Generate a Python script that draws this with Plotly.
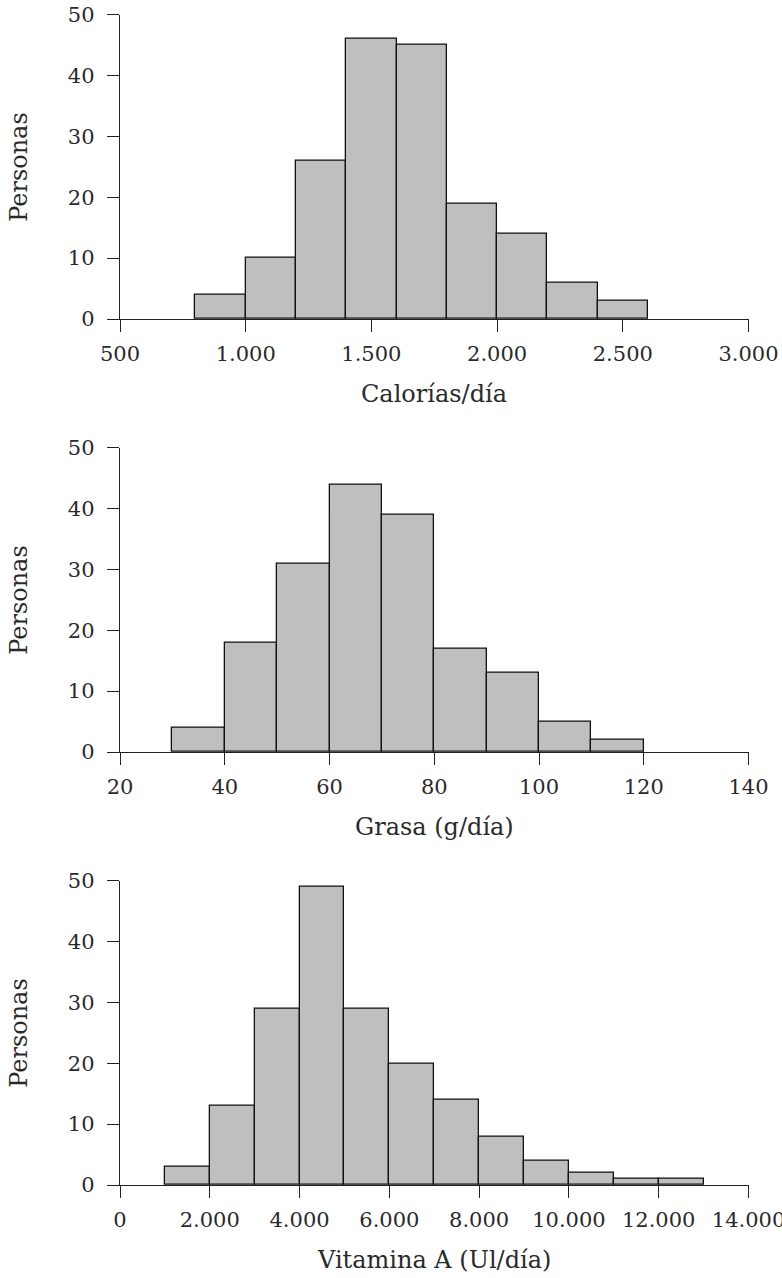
import plotly.graph_objects as go

# ---- data ----
cal_edges = [800, 1000, 1200, 1400, 1600, 1800, 2000, 2200, 2400]
cal_width = 200
cal_counts = [4, 10, 26, 46, 45, 19, 14, 6, 3]
cal_tickvals = [500, 1000, 1500, 2000, 2500, 3000]
cal_ticktext = ["500", "1.000", "1.500", "2.000", "2.500", "3.000"]

fat_edges = [30, 40, 50, 60, 70, 80, 90, 100, 110]
fat_width = 10
fat_counts = [4, 18, 31, 44, 39, 17, 13, 5, 2]
fat_tickvals = [20, 40, 60, 80, 100, 120, 140]
fat_ticktext = ["20", "40", "60", "80", "100", "120", "140"]

vit_edges = [1000, 2000, 3000, 4000, 5000, 6000, 7000, 8000, 9000, 10000, 11000, 12000]
vit_width = 1000
vit_counts = [3, 13, 29, 49, 29, 20, 14, 8, 4, 2, 1, 1]
vit_tickvals = [0, 2000, 4000, 6000, 8000, 10000, 12000, 14000]
vit_ticktext = ["0", "2.000", "4.000", "6.000", "8.000", "10.000", "12.000", "14.000"]

y_tickvals = [0, 10, 20, 30, 40, 50]
x_titles = ["Calorías/día", "Grasa (g/día)", "Vitamina A (Ul/día)"]
y_title = "Personas"

# ---- layout geometry (pixels) ----
W, H = 782, 1278
x_left, x_right = 120, 748.5
panels = [(14.7, 319), (447.7, 752), (880.7, 1185)]

FONT = "DejaVu Serif"
TXT = "#2a2a2a"

fig = go.Figure()
series = [
    (cal_edges, cal_width, cal_counts, cal_tickvals, cal_ticktext, [500, 3000]),
    (fat_edges, fat_width, fat_counts, fat_tickvals, fat_ticktext, [20, 140]),
    (vit_edges, vit_width, vit_counts, vit_tickvals, vit_ticktext, [0, 14000]),
]

annotations = []
for i, (edges, width, counts, tv, tt, xr) in enumerate(series):
    n = "" if i == 0 else str(i + 1)
    fig.add_trace(go.Bar(
        x=edges, y=counts, width=width, offset=0,
        marker=dict(color="#bfbfbf", line=dict(color="#111111", width=1.3)),
        xaxis="x" + n, yaxis="y" + n, showlegend=False, hoverinfo="x+y",
    ))
    top, bot = panels[i]
    dom_y = [1 - bot / H, 1 - top / H]
    dom_x = [x_left / W, x_right / W]
    fig.layout["xaxis" + n] = dict(
        domain=dom_x, range=xr, anchor="y" + n, automargin=False,
        tickvals=tv, ticktext=tt, ticks="outside", ticklen=12, tickwidth=1.4,
        tickcolor="#222", showline=True, linecolor="#222", linewidth=1.4,
        showgrid=False, zeroline=False, ticklabelstandoff=4,
        ticklabeloverflow="allow",
        tickfont=dict(family=FONT, size=21, color=TXT),
    )
    fig.layout["yaxis" + n] = dict(
        domain=dom_y, range=[0, 50], anchor="x" + n, automargin=False,
        tickvals=y_tickvals, ticks="outside", ticklen=12, tickwidth=1.4,
        tickcolor="#222", showline=True, linecolor="#222", linewidth=1.4,
        showgrid=False, zeroline=False, ticklabelstandoff=8,
        ticklabeloverflow="allow",
        tickfont=dict(family=FONT, size=21, color=TXT),
    )
    annotations.append(dict(
        text=x_titles[i], xref="paper", yref="paper",
        x=(x_left + x_right) / 2 / W, y=1 - (bot + 75) / H,
        xanchor="center", yanchor="middle", showarrow=False,
        font=dict(family=FONT, size=24, color=TXT),
    ))
    annotations.append(dict(
        text=y_title, xref="paper", yref="paper",
        x=19 / W, y=1 - (top + bot) / 2 / H, textangle=-90,
        xanchor="center", yanchor="middle", showarrow=False,
        font=dict(family=FONT, size=24, color=TXT),
    ))

fig.update_layout(
    width=W, height=H,
    margin=dict(l=0, r=0, t=0, b=0, autoexpand=False),
    paper_bgcolor="white", plot_bgcolor="white",
    bargap=0,
    annotations=annotations,
)

fig.write_html(
    "out.html",
    config={"displayModeBar": False},
    post_script="document.body.style.margin='0px';",
)
